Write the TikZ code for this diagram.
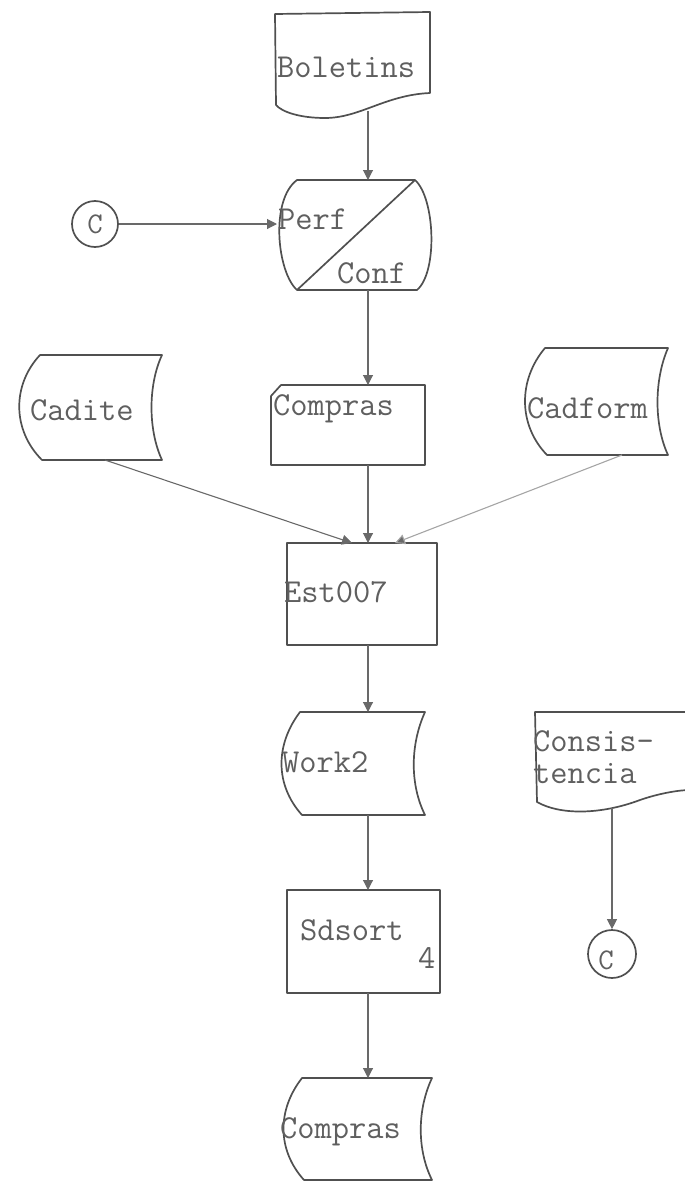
\documentclass[tikz,border=0pt]{standalone}
\usepackage{fontspec}
\usetikzlibrary{arrows.meta}
\definecolor{linec}{RGB}{80,80,80}
\definecolor{connc}{RGB}{105,105,105}
\definecolor{lightc}{RGB}{165,165,165}
\definecolor{txtc}{RGB}{95,95,95}
\begin{document}
\begin{tikzpicture}[x=1pt,y=-1pt,
  shp/.style={draw=linec, line width=1.7pt, line join=round},
  conn/.style={draw=connc, line width=1.1pt, -{Triangle[width=10pt,length=10pt,fill=connc]}},
  lbl/.style={text=txtc, font=\ttfamily\fontsize{33.5}{36}\selectfont, inner sep=0pt, anchor=base west},
  clbl/.style={text=txtc, font=\ttfamily\fontsize{30}{32}\selectfont, inner sep=0pt},
  boxnode/.style={shp, rectangle, inner sep=0pt},
  conncircle/.style={shp, circle, inner sep=0pt, minimum size=#1}
]
\useasboundingbox (0,0) rectangle (685,1183);

% Boletins (document)
\draw[shp] (275,14) -- (430,12) -- (430,93) .. controls (385,95) and (360,118) .. (325,118) .. controls (300,118) and (282,112) .. (276,105) -- cycle;
\node[lbl] (tbol) at (277,77) {Boletins};
\coordinate (bolS) at (368,111);

% Perf / Conf
\draw[shp] (297,180) -- (415,180) .. controls (435,198) and (438,272) .. (417,290) -- (297,290) .. controls (277,272) and (270,200) .. (297,180) -- cycle;
\draw[shp] (297,290) -- (415,180);
\node[lbl] (tperf) at (278,229) {Perf};
\node[lbl] (tconf) at (337,283) {Conf};
\coordinate (perfN) at (368,180);
\coordinate (perfS) at (368,290);
\coordinate (perfW) at (277,224);

% connector C (top)
\node[conncircle=46pt] (c1) at (95,224) {};
\node[clbl] (tc1) at (95,224) {C};

% Cadite
\draw[shp] (40,355) -- (162,355) .. controls (148,385) and (148,430) .. (162,460) -- (42,460) .. controls (12,430) and (12,385) .. (40,355) -- cycle;
\node[lbl] (tcadite) at (30,420) {Cadite};
\coordinate (caditeS) at (105,460);

% Compras (card)
\draw[shp] (271,396) -- (281,385) -- (425,385) -- (425,465) -- (271,465) -- cycle;
\node[lbl] (tcomp1) at (273,415) {Compras};
\coordinate (comp1N) at (368,385);
\coordinate (comp1S) at (368,465);

% Cadform
\draw[shp] (545,348) -- (668,348) .. controls (654,380) and (654,425) .. (668,455) -- (547,455) .. controls (518,425) and (518,380) .. (545,348) -- cycle;
\node[lbl] (tcadform) at (527,418) {Cadform};
\coordinate (cadformS) at (622,455);

% Est007
\node[boxnode, minimum width=150pt, minimum height=102pt] (est) at (362,594) {};
\node[lbl] (test) at (284,602) {Est007};
\coordinate (estN1) at (352,543);
\coordinate (estN2) at (368,543);
\coordinate (estN3) at (395,543);
\coordinate (estS) at (368,645);

% Work2
\draw[shp] (300,712) -- (425,712) .. controls (410,745) and (410,785) .. (425,815) -- (302,815) .. controls (275,785) and (275,745) .. (300,712) -- cycle;
\node[lbl] (twork) at (282,772) {Work2};
\coordinate (workN) at (368,712);
\coordinate (workS) at (368,815);

% Consistencia (document)
\draw[shp] (535,712) -- (690,712) -- (690,790) .. controls (680,790) and (660,793) .. (640,800) .. controls (600,815) and (560,815) .. (537,802) -- cycle;
\node[lbl] (tcons1) at (533,751) {Consis-};
\node[lbl] (tcons2) at (533,783) {tencia};
\coordinate (consS) at (612,808);

% connector C (bottom)
\node[conncircle=48pt] (c2) at (612,954) {};
\node[clbl] (tc2) at (606,960) {C};

% Sdsort 4
\node[boxnode, minimum width=153pt, minimum height=103pt] (sds) at (363.5,941.5) {};
\node[lbl] (tsds) at (300,940) {Sdsort};
\node[lbl] (tsds4) at (418,968) {4};
\coordinate (sdsN) at (368,890);
\coordinate (sdsS) at (368,993);

% Compras (stored data)
\draw[shp] (302,1078) -- (432,1078) .. controls (417,1110) and (417,1150) .. (432,1180) -- (304,1180) .. controls (277,1150) and (277,1110) .. (302,1078) -- cycle;
\node[lbl] (tcomp2) at (280,1138) {Compras};
\coordinate (comp2N) at (368,1078);

% connectors
\draw[conn] (bolS) -- (perfN);
\draw[conn] (c1) -- (perfW);
\draw[conn] (perfS) -- (comp1N);
\draw[conn] (caditeS) -- (estN1);
\draw[conn] (comp1S) -- (estN2);
\draw[conn, draw=lightc] (cadformS) -- (estN3);
\draw[conn] (estS) -- (workN);
\draw[conn] (workS) -- (sdsN);
\draw[conn] (sdsS) -- (comp2N);
\draw[conn] (consS) -- (c2);
\end{tikzpicture}
\end{document}
